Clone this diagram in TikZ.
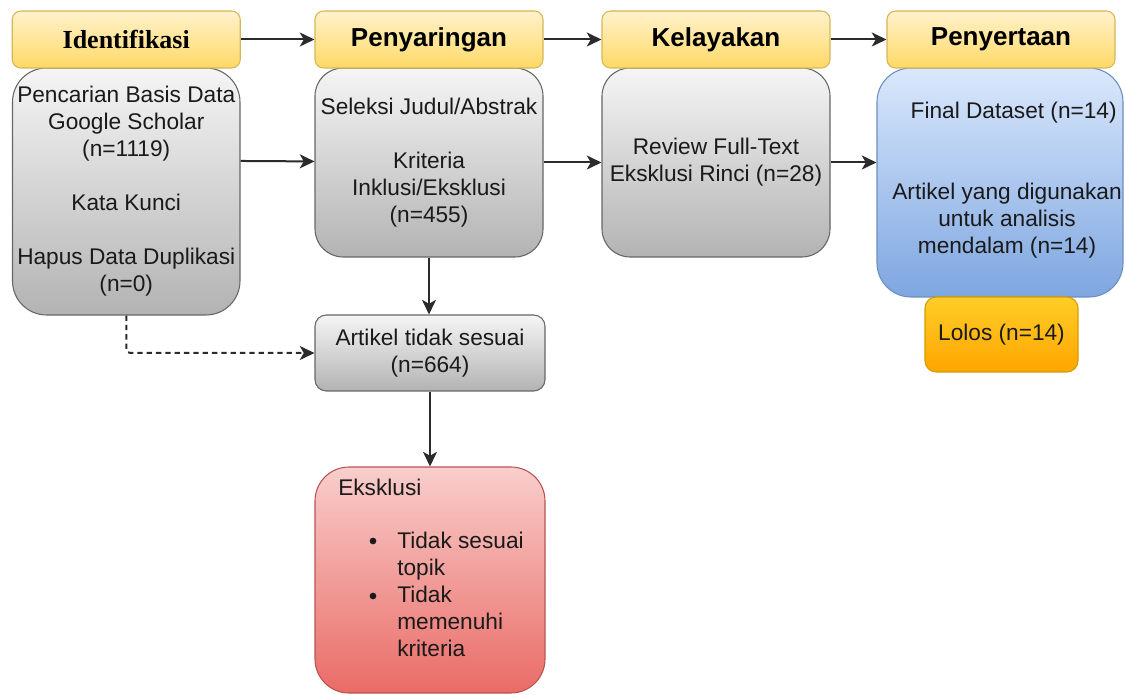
\documentclass[tikz,border=0pt]{standalone}
\usepackage{fontspec}
\setmainfont{Liberation Sans}
\newfontfamily\serifb{Liberation Serif}
\usetikzlibrary{arrows.meta}
\definecolor{hdrtop}{HTML}{FFF2CC}
\definecolor{hdrbot}{HTML}{FFD966}
\definecolor{hdrline}{HTML}{D6B656}
\definecolor{graytop}{HTML}{F5F5F5}
\definecolor{graybot}{HTML}{B3B3B3}
\definecolor{grayline}{HTML}{666666}
\definecolor{bluetop}{HTML}{DAE8FC}
\definecolor{bluebot}{HTML}{7EA6E0}
\definecolor{blueline}{HTML}{6C8EBF}
\definecolor{orgtop}{HTML}{FFCD28}
\definecolor{orgbot}{HTML}{FFA500}
\definecolor{orgline}{HTML}{D79B00}
\definecolor{redtop}{HTML}{F8CECC}
\definecolor{redbot}{HTML}{EA6B66}
\definecolor{redline}{HTML}{B85450}
\definecolor{arrcol}{HTML}{2B2B2B}
\definecolor{txt}{HTML}{1A1A1A}
\newcommand\bodyfont{\fontsize{17}{20.25}\selectfont}
\newcommand\hdrfont{\fontsize{19.5}{23}\selectfont\bfseries}
\tikzset{
  hdr/.style={draw=hdrline, line width=0.8pt, rounded corners=6.4pt, top color=hdrtop, bottom color=hdrbot,
    minimum width=171pt, minimum height=42.75pt, inner sep=0pt, font=\hdrfont, text=black},
  graybox/.style={draw=grayline, line width=0.8pt, top color=graytop, bottom color=graybot,
    inner sep=0pt, align=center, font=\bodyfont, text=txt},
  bluebox/.style={draw=blueline, line width=0.8pt, top color=bluetop, bottom color=bluebot,
    inner sep=0pt, rounded corners=25.5pt},
  orgbox/.style={draw=orgline, line width=0.8pt, top color=orgtop, bottom color=orgbot,
    inner sep=0pt, rounded corners=8.4pt, font=\bodyfont, text=txt},
  redbox/.style={draw=redline, line width=0.8pt, top color=redtop, bottom color=redbot,
    inner sep=0pt, rounded corners=25.5pt},
  txtnode/.style={inner sep=0pt, font=\bodyfont, text=txt},
  arr/.style={draw=arrcol, line width=1.5pt, -{Stealth[length=11pt,width=10.5pt,inset=3pt]}},
  darr/.style={arr, dashed, dash pattern=on 4pt off 3pt, rounded corners=3pt}
}
\begin{document}
\begin{tikzpicture}[x=0.75pt,y=-0.75pt]
\useasboundingbox (0,0) rectangle (1125,695);

% content boxes
\node[graybox, rounded corners=25.5pt, minimum width=170.6pt, minimum height=185.25pt] (idc) at (126.25,191.5)
  {Pencarian Basis Data\\Google Scholar\\(n=1119)\\[20.25pt]Kata Kunci\\[20.25pt]Hapus Data Duplikasi\\(n=0)};
\node[graybox, rounded corners=21pt, minimum width=171pt, minimum height=141.75pt] (pyc) at (429,162.5)
  {Seleksi Judul/Abstrak\\[20.25pt]Kriteria\\Inklusi/Eksklusi\\(n=455)};
\node[graybox, rounded corners=21pt, minimum width=171pt, minimum height=141.75pt] (klc) at (716,162.5)
  {Review Full-Text\\Eksklusi Rinci (n=28)};
\node[bluebox, minimum width=184.5pt, minimum height=171.75pt] (pnc) at (1000,182.5) {};
\node[txtnode, align=center] (pnct) at (1007,180.5)
  {\hspace*{10pt}Final Dataset (n=14)\\[40.5pt]Artikel yang digunakan\\untuk analisis\\mendalam (n=14)};
\node[orgbox, minimum width=114.75pt, minimum height=56.25pt] (lolos) at (1001.5,334.5) {Lolos (n=14)};
\node[graybox, rounded corners=8.5pt, minimum width=172.5pt, minimum height=57pt] (art) at (430,353)
  {Artikel tidak sesuai\\(n=664)};
\node[redbox, minimum width=172.5pt, minimum height=169.5pt] (eks) at (430,580) {};
\node[txtnode, anchor=mid west] (eksT) at (338,492) {Eksklusi};
\node[txtnode, anchor=west, align=left] (eksL) at (397,594)
  {Tidak sesuai\\topik\\Tidak\\memenuhi\\kriteria};
\node[circle, fill=txt, inner sep=0pt, minimum size=5pt] (b1) at (373,541) {};
\node[circle, fill=txt, inner sep=0pt, minimum size=5pt] (b2) at (373,596) {};

% headers
\node[hdr, font=\fontsize{19.5}{23}\selectfont\serifb\bfseries] (h1) at (126.25,39.5) {Identifikasi};
\node[hdr] (h2) at (429,39.5) {Penyaringan};
\node[hdr] (h3) at (716,39.5) {Kelayakan};
\node[hdr] (h4) at (1001,39.5) {Penyertaan};

% connectors
\draw[arr] (h1.east) -- (h2.west);
\draw[arr] (h2.east) -- (h3.west);
\draw[arr] (h3.east) -- (h4.west);
\draw[arr] ([yshift=22.9pt]idc.east) -- ([yshift=0.8pt]pyc.west);
\draw[arr] (pyc.east) -- (klc.west);
\draw[arr] (klc.east) -- (klc.east -| pnc.west);
\draw[arr] (pyc.south) -- (pyc.south |- art.north);
\draw[arr] (art.south) -- (eks.north);
\draw[darr] (idc.south) -- (idc.south |- art.west) -- (art.west);
\end{tikzpicture}
\end{document}
